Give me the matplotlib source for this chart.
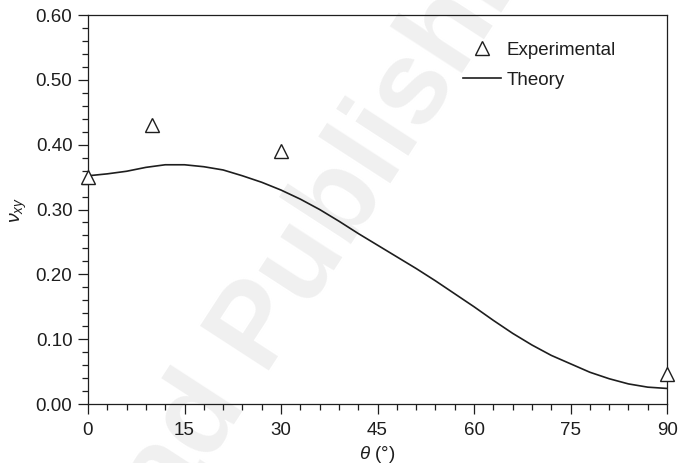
import numpy as np
import matplotlib
matplotlib.use('Agg')
import matplotlib.pyplot as plt
from matplotlib.ticker import MultipleLocator, FormatStrFormatter

plt.rcParams['font.family'] = ['Liberation Sans', 'DejaVu Sans']
plt.rcParams['mathtext.fontset'] = 'custom'
plt.rcParams['mathtext.it'] = 'Liberation Sans:italic'
plt.rcParams['mathtext.rm'] = 'Liberation Sans'

# measured Poisson's ratio vs fibre angle
exp_theta = [0, 10, 30, 90]
exp_nu = [0.350, 0.430, 0.390, 0.047]

# predicted curve
th_theta = [0, 3, 6, 9, 12, 15, 18, 21, 24, 27, 30, 33, 36, 39, 42, 45,
            48, 51, 54, 57, 60, 63, 66, 69, 72, 75, 78, 81, 84, 87, 90]
th_nu = [0.352, 0.355, 0.359, 0.365, 0.369, 0.369, 0.366, 0.361, 0.352, 0.342,
         0.330, 0.316, 0.300, 0.282, 0.263, 0.245, 0.227, 0.209, 0.190, 0.170,
         0.150, 0.129, 0.109, 0.091, 0.075, 0.062, 0.049, 0.039, 0.031, 0.026,
         0.024]

ink = '#1e1e1e'
fs = 13.5

fig = plt.figure(figsize=(6.8, 4.63), dpi=100)
ax = fig.add_axes([0.1294, 0.1274, 0.8516, 0.8402])
ax.set_facecolor('none')

# faint publisher watermark behind everything
fig.text(0.34, 0.195, 'Woodhead Publishing', rotation=57, ha='center', va='center',
         fontsize=85, fontweight='bold', color='#f0f0f0', zorder=-5)

ax.plot(th_theta, th_nu, color=ink, lw=1.2, label='Theory', zorder=2)
ax.plot(exp_theta, exp_nu, ls='none', marker='^', ms=9.5, mfc='white',
        mec=ink, mew=1.0, label='Experimental', zorder=3, clip_on=False)

ax.set_xlim(0, 90)
ax.set_ylim(0, 0.60)
ax.xaxis.set_major_locator(MultipleLocator(15))
ax.xaxis.set_minor_locator(MultipleLocator(3))
ax.yaxis.set_major_locator(MultipleLocator(0.10))
ax.yaxis.set_minor_locator(MultipleLocator(0.02))
ax.yaxis.set_major_formatter(FormatStrFormatter('%.2f'))

ax.tick_params(which='major', direction='out', length=7.2, width=0.9,
               labelsize=fs, colors=ink)
ax.tick_params(axis='x', which='major', pad=6)
ax.tick_params(axis='y', which='major', pad=4)
ax.tick_params(which='minor', direction='out', length=4.3, width=0.9, colors=ink)
for s in ax.spines.values():
    s.set_linewidth(0.9)
    s.set_color(ink)

ax.set_xlabel(r'$\theta$ (°)', fontsize=fs, color=ink, labelpad=3)
ax.set_ylabel(r'$\nu_{xy}$', fontsize=fs + 0.5, color=ink, labelpad=5)

h, l = ax.get_legend_handles_labels()
leg = ax.legend(h[::-1], l[::-1], loc='upper left', bbox_to_anchor=(0.648, 0.932),
                borderpad=0, borderaxespad=0, frameon=False, fontsize=fs,
                handlelength=2.0, handletextpad=0.3, labelspacing=0.7)
for t in leg.get_texts():
    t.set_color(ink)

fig.savefig('out.png', dpi=100)
